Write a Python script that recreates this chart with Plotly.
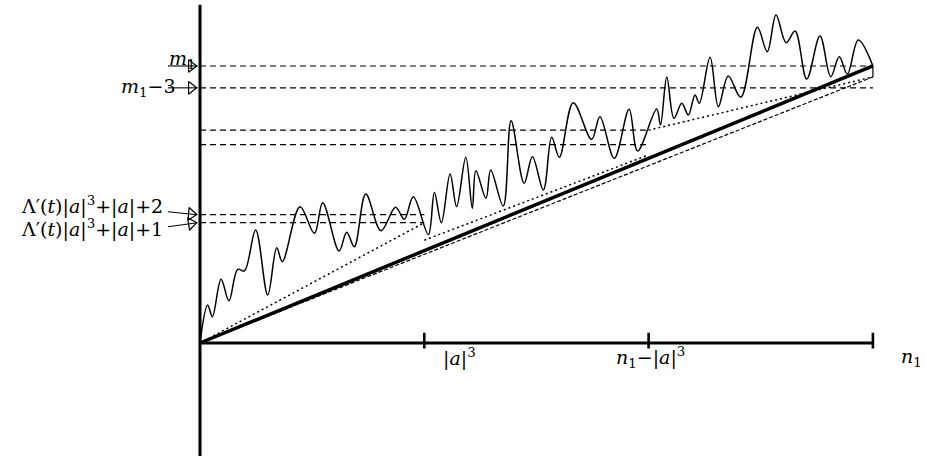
import plotly.graph_objects as go

# ---- data (axis units: n1 = 30, m1 = 38) ----
n1 = 30.0
a3 = 10.0                      # |a|^3
tick_x = [a3, n1 - a3, n1]
tick_labels = ["|<i>a</i>|<sup>3</sup>", "<i>n</i><sub>1</sub>−|<i>a</i>|<sup>3</sup>", "<i>n</i><sub>1</sub>"]

m1 = 38.0
m1_minus3 = 35.0
mid_upper = 29.2
mid_lower = 27.2
lam_plus2 = 17.6
lam_plus1 = 16.5
dashed_end = 36.5
segB_start = 14.1
segB_end = 25.8

level_labels = ["<i>m</i><sub>1</sub>", "<i>m</i><sub>1</sub>−3",
                "Λ′(<i>t</i>)|<i>a</i>|<sup>3</sup>+|<i>a</i>|+2",
                "Λ′(<i>t</i>)|<i>a</i>|<sup>3</sup>+|<i>a</i>|+1"]

curve_x = [0, 0.34, 0.55, 0.94, 1.29, 1.68, 1.98, 2.48, 3.02, 3.42, 3.67, 4.46, 5.10, 5.47, 6.20,
           6.54, 6.88, 7.39, 8.07, 8.72, 9.11, 9.51, 10.18, 10.45, 10.76, 11.15, 11.44, 11.85, 12.14,
           12.30, 12.75, 12.96, 13.52, 13.87, 14.45, 14.82, 15.31, 15.68, 16.02, 16.64, 17.46, 17.83,
           18.47, 19.13, 19.51, 20.36, 20.53, 20.81, 21.13, 21.48, 21.77, 22.07, 22.26, 22.74, 23.11,
           23.55, 24.11, 24.85, 25.29, 25.68, 26.13, 26.53, 27.05, 27.64, 28.12, 28.50, 28.86, 29.35, 30.0]
curve_y = [0, 5.21, 3.61, 8.74, 5.80, 10.11, 9.88, 15.50, 6.58, 13.07, 11.15, 18.70, 15.05, 19.25, 12.62,
           15.19, 13.21, 20.44, 15.40, 18.61, 16.97, 20.07, 14.87, 20.64, 16.50, 23.18, 18.70, 25.47, 18.48,
           23.64, 19.85, 23.73, 18.79, 30.49, 21.91, 25.56, 20.99, 28.22, 25.47, 32.96, 27.94, 31.04,
           25.34, 32.06, 26.34, 32.10, 29.90, 36.49, 30.82, 32.88, 31.28, 34.02, 32.88, 39.19, 32.41,
           36.63, 33.70, 43.31, 39.96, 44.99, 41.19, 42.80, 36.21, 42.11, 36.53, 39.27, 36.90, 41.56, 38.0]

# ---- view ----
PX_X = 22.43
PX_Y = 7.29
x_lo = -200 / PX_X
x_hi = x_lo + 926 / PX_X
y_hi = 343 / PX_Y
y_lo = y_hi - 456 / PX_Y

fig = go.Figure()
BLACK = "black"

def seg(xs, ys, width=1.2, dash="solid"):
    fig.add_trace(go.Scatter(x=xs, y=ys, mode="lines",
                             line=dict(color=BLACK, width=width, dash=dash),
                             hoverinfo="skip", showlegend=False))

# horizontal dashed levels
DASH = "6px,4px"
seg([0, n1], [m1, m1], 1.2, DASH)
seg([0, n1], [m1_minus3, m1_minus3], 1.2, DASH)
seg([0, n1 - a3], [mid_upper, mid_upper], 1.2, DASH)
seg([0, n1 - a3], [mid_lower, mid_lower], 1.2, DASH)
seg([0, a3], [lam_plus2, lam_plus2], 1.2, DASH)
seg([0, a3], [lam_plus1, lam_plus1], 1.2, DASH)

# dotted chords
DOT = "2px,3px"
seg([0, a3], [0, lam_plus1], 1.5, DOT)
seg([a3, n1 - a3], [segB_start, segB_end], 1.5, DOT)
seg([n1 - a3, n1], [mid_upper, dashed_end], 1.5, DOT)

# fine dashed line below thick line
seg([0, n1], [0, dashed_end], 1.2, "4px,2px")
seg([n1, n1], [m1, dashed_end], 1.2)

# thick line
seg([0, n1], [0, m1], 3.5)

# the wiggly curve
fig.add_trace(go.Scatter(x=curve_x, y=curve_y, mode="lines",
                         line=dict(color=BLACK, width=1.5, shape="spline", smoothing=1.0),
                         hoverinfo="skip", showlegend=False))

# axes
seg([0, 0], [y_lo, 46.4], 3)
seg([0, n1], [0, 0], 3)
for tx in tick_x:
    seg([tx, tx], [1.4, -0.75], 2.6)

# arrows onto the vertical axis
arrow_tail_x = -1.43
arrow_tip_x = -0.12
arrows = [(m1, m1, 0), (m1_minus3, m1_minus3, 0), (18.0, lam_plus2, 4.5), (15.95, lam_plus1, -8.6)]
for ytail, ytip, ang in arrows:
    seg([arrow_tail_x, arrow_tip_x], [ytail, ytip], 1.1)
    fx = arrow_tip_x - 6 / PX_X
    fy = ytip + (ytail - ytip) * (6 / PX_X) / (arrow_tip_x - arrow_tail_x)
    fig.add_trace(go.Scatter(x=[fx], y=[fy], mode="markers",
                             marker=dict(symbol="triangle-right-open", size=11, angle=ang,
                                         color=BLACK, line=dict(width=1.2, color=BLACK)),
                             hoverinfo="skip", showlegend=False))

FONT = dict(family="DejaVu Serif", size=19, color=BLACK)

# level labels
label_pos = [(-0.1, 38.9), (-1.0, m1_minus3), (-1.56, 18.8), (-1.56, 15.75)]
for txt, (lx, ly) in zip(level_labels, label_pos):
    fig.add_annotation(x=lx, y=ly, xref="x", yref="y", text=txt, showarrow=False,
                       xanchor="right", yanchor="middle", font=FONT)

# tick labels
tick_label_x = [11.55, 20.1, 31.74]
for txt, lx in zip(tick_labels, tick_label_x):
    fig.add_annotation(x=lx, y=-2.0, xref="x", yref="y", text=txt, showarrow=False,
                       xanchor="center", yanchor="middle", font=FONT)

fig.update_layout(width=926, height=456, margin=dict(l=0, r=0, t=0, b=0),
                  paper_bgcolor="white", plot_bgcolor="white", showlegend=False,
                  xaxis=dict(range=[x_lo, x_hi], visible=False, fixedrange=True),
                  yaxis=dict(range=[y_lo, y_hi], visible=False, fixedrange=True))

fig.write_html("out.html", config={"displayModeBar": False},
               post_script="document.body.style.margin='0';document.body.style.overflow='hidden';")
